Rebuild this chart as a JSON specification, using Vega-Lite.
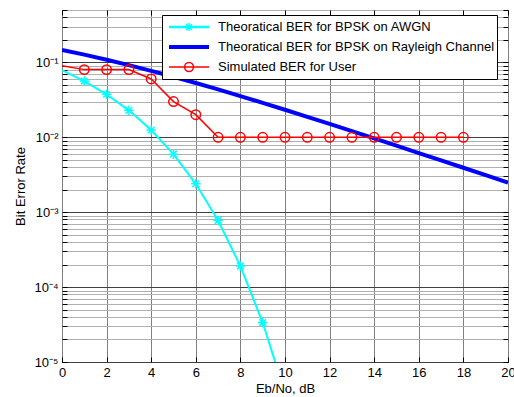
{
  "$schema": "https://vega.github.io/schema/vega-lite/v6.json",
  "width": 446,
  "height": 352,
  "autosize": "none",
  "padding": {"left": 62, "top": 10, "right": 6, "bottom": 35},
  "background": "white",
  "config": {
    "view": {"stroke": "black", "strokeWidth": 1},
    "axis": {
      "labelFont": "Liberation Sans", "labelFontSize": 13, "labelColor": "black",
      "titleFont": "Liberation Sans", "titleFontSize": 13, "titleFontWeight": "normal", "titleColor": "black",
      "domain": false, "tickColor": "black"
    }
  },
  "resolve": {"axis": {"x": "independent", "y": "independent"}},
  "data": {
    "values": [
      {"x": 0, "y": 0.0786, "series": "Theoratical BER for BPSK on AWGN"},
      {"x": 1, "y": 0.0563, "series": "Theoratical BER for BPSK on AWGN"},
      {"x": 2, "y": 0.0375, "series": "Theoratical BER for BPSK on AWGN"},
      {"x": 3, "y": 0.0229, "series": "Theoratical BER for BPSK on AWGN"},
      {"x": 4, "y": 0.0125, "series": "Theoratical BER for BPSK on AWGN"},
      {"x": 5, "y": 0.00595, "series": "Theoratical BER for BPSK on AWGN"},
      {"x": 6, "y": 0.00239, "series": "Theoratical BER for BPSK on AWGN"},
      {"x": 7, "y": 0.000773, "series": "Theoratical BER for BPSK on AWGN"},
      {"x": 8, "y": 0.000191, "series": "Theoratical BER for BPSK on AWGN"},
      {"x": 9, "y": 0.0000336, "series": "Theoratical BER for BPSK on AWGN"},
      {"x": 10, "y": 0.00000387, "series": "Theoratical BER for BPSK on AWGN"},
      {"x": 0, "y": 0.1464, "series": "Theoratical BER for BPSK on Rayleigh Channel"},
      {"x": 1, "y": 0.1267, "series": "Theoratical BER for BPSK on Rayleigh Channel"},
      {"x": 2, "y": 0.1085, "series": "Theoratical BER for BPSK on Rayleigh Channel"},
      {"x": 3, "y": 0.0919, "series": "Theoratical BER for BPSK on Rayleigh Channel"},
      {"x": 4, "y": 0.0771, "series": "Theoratical BER for BPSK on Rayleigh Channel"},
      {"x": 5, "y": 0.0642, "series": "Theoratical BER for BPSK on Rayleigh Channel"},
      {"x": 6, "y": 0.0530, "series": "Theoratical BER for BPSK on Rayleigh Channel"},
      {"x": 7, "y": 0.0435, "series": "Theoratical BER for BPSK on Rayleigh Channel"},
      {"x": 8, "y": 0.0355, "series": "Theoratical BER for BPSK on Rayleigh Channel"},
      {"x": 9, "y": 0.0288, "series": "Theoratical BER for BPSK on Rayleigh Channel"},
      {"x": 10, "y": 0.0233, "series": "Theoratical BER for BPSK on Rayleigh Channel"},
      {"x": 11, "y": 0.01875, "series": "Theoratical BER for BPSK on Rayleigh Channel"},
      {"x": 12, "y": 0.01506, "series": "Theoratical BER for BPSK on Rayleigh Channel"},
      {"x": 13, "y": 0.01208, "series": "Theoratical BER for BPSK on Rayleigh Channel"},
      {"x": 14, "y": 0.00967, "series": "Theoratical BER for BPSK on Rayleigh Channel"},
      {"x": 15, "y": 0.00772, "series": "Theoratical BER for BPSK on Rayleigh Channel"},
      {"x": 16, "y": 0.00616, "series": "Theoratical BER for BPSK on Rayleigh Channel"},
      {"x": 17, "y": 0.00492, "series": "Theoratical BER for BPSK on Rayleigh Channel"},
      {"x": 18, "y": 0.00392, "series": "Theoratical BER for BPSK on Rayleigh Channel"},
      {"x": 19, "y": 0.00312, "series": "Theoratical BER for BPSK on Rayleigh Channel"},
      {"x": 20, "y": 0.00248, "series": "Theoratical BER for BPSK on Rayleigh Channel"},
      {"x": 0, "y": 0.09, "series": "Simulated BER for User"},
      {"x": 1, "y": 0.08, "series": "Simulated BER for User"},
      {"x": 2, "y": 0.08, "series": "Simulated BER for User"},
      {"x": 3, "y": 0.08, "series": "Simulated BER for User"},
      {"x": 4, "y": 0.06, "series": "Simulated BER for User"},
      {"x": 5, "y": 0.03, "series": "Simulated BER for User"},
      {"x": 6, "y": 0.02, "series": "Simulated BER for User"},
      {"x": 7, "y": 0.01, "series": "Simulated BER for User"},
      {"x": 8, "y": 0.01, "series": "Simulated BER for User"},
      {"x": 9, "y": 0.01, "series": "Simulated BER for User"},
      {"x": 10, "y": 0.01, "series": "Simulated BER for User"},
      {"x": 11, "y": 0.01, "series": "Simulated BER for User"},
      {"x": 12, "y": 0.01, "series": "Simulated BER for User"},
      {"x": 13, "y": 0.01, "series": "Simulated BER for User"},
      {"x": 14, "y": 0.01, "series": "Simulated BER for User"},
      {"x": 15, "y": 0.01, "series": "Simulated BER for User"},
      {"x": 16, "y": 0.01, "series": "Simulated BER for User"},
      {"x": 17, "y": 0.01, "series": "Simulated BER for User"},
      {"x": 18, "y": 0.01, "series": "Simulated BER for User"}
    ]
  },
  "layer": [
    {
      "mark": {"type": "line", "clip": true},
      "encoding": {
        "x": {
          "field": "x", "type": "quantitative",
          "scale": {"domain": [0, 20], "nice": false, "zero": false},
          "axis": {
            "title": "Eb/No, dB",
            "values": [0, 2, 4, 6, 8, 10, 12, 14, 16, 18, 20],
            "grid": true, "gridColor": "#808080", "gridWidth": 1,
            "tickSize": -5, "labelPadding": 9, "titlePadding": 3,
            "labelFlush": false, "labelOverlap": false
          }
        },
        "y": {
          "field": "y", "type": "quantitative",
          "scale": {"type": "log", "domain": [0.00001, 0.5], "nice": false},
          "axis": {
            "title": "Bit Error Rate",
            "values": [0.00001, 0.00002, 0.00003, 0.00004, 0.00005, 0.00006, 0.00007, 0.00008, 0.00009,
                       0.0001, 0.0002, 0.0003, 0.0004, 0.0005, 0.0006, 0.0007, 0.0008, 0.0009,
                       0.001, 0.002, 0.003, 0.004, 0.005, 0.006, 0.007, 0.008, 0.009,
                       0.01, 0.02, 0.03, 0.04, 0.05, 0.06, 0.07, 0.08, 0.09,
                       0.1, 0.2, 0.3, 0.4, 0.5],
            "labelExpr": "abs(log(datum.value)/LN10 - round(log(datum.value)/LN10)) < 0.001 ? '10' + ['⁰','⁻¹','⁻²','⁻³','⁻⁴','⁻⁵'][-round(log(datum.value)/LN10)] : ''",
            "labelOverlap": false, "labelFlush": false,
            "grid": true,
            "gridColor": {"condition": {"test": "abs(log(datum.value)/LN10 - round(log(datum.value)/LN10)) < 0.001", "value": "#404040"}, "value": "#b0b0b0"},
            "tickSize": -5, "labelPadding": 9, "titlePadding": 6
          }
        },
        "color": {
          "field": "series", "type": "nominal",
          "scale": {
            "domain": ["Theoratical BER for BPSK on AWGN", "Theoratical BER for BPSK on Rayleigh Channel", "Simulated BER for User"],
            "range": ["#00FFFF", "#0000FF", "#FF0000"]
          },
          "legend": {
            "title": null,
            "orient": "none", "legendX": 100, "legendY": 5,
            "direction": "vertical",
            "strokeColor": "black", "fillColor": "white", "padding": 2,
            "labelFont": "Liberation Sans", "labelFontSize": 13, "labelColor": "black", "labelLimit": 500,
            "labelOffset": 8, "symbolOffset": 4,
            "symbolSize": 1600, "symbolStrokeWidth": 1.5,
            "clipHeight": 20, "rowPadding": 0,
            "encode": {
              "symbols": {
                "update": {
                  "shape": {"signal": "datum.value == 'Theoratical BER for BPSK on AWGN' ? 'M-1,-0.02H1M-1,0.02H1M0,-0.2V0.2M-0.15,-0.15L0.15,0.15M-0.15,0.15L0.15,-0.15' : datum.value == 'Theoratical BER for BPSK on Rayleigh Channel' ? 'M-1,-0.06H1M-1,0H1M-1,0.06H1' : 'M-1,0H1M0.22,0A0.22,0.22 0 1,1 -0.22,0A0.22,0.22 0 1,1 0.22,0'"},
                  "stroke": {"scale": "color", "field": "value"},
                  "fill": {"value": "transparent"},
                  "strokeWidth": {"value": 1.5},
                  "opacity": {"value": 1}
                }
              }
            }
          }
        },
        "strokeWidth": {
          "condition": [
            {"test": "datum.series == 'Theoratical BER for BPSK on Rayleigh Channel'", "value": 4},
            {"test": "datum.series == 'Simulated BER for User'", "value": 1.5}
          ],
          "value": 2
        }
      }
    },
    {
      "transform": [{"filter": "datum.series != 'Theoratical BER for BPSK on Rayleigh Channel' && datum.x > 0"}],
      "mark": {"type": "point", "clip": true, "filled": false, "size": 90, "strokeWidth": 1.5, "opacity": 1},
      "encoding": {
        "x": {
          "field": "x", "type": "quantitative",
          "axis": {"orient": "top", "title": null, "labels": false, "grid": false, "tickSize": -5,
                   "values": [0, 2, 4, 6, 8, 10, 12, 14, 16, 18, 20]}
        },
        "y": {
          "field": "y", "type": "quantitative",
          "axis": {"orient": "right", "title": null, "labels": false, "grid": false, "tickSize": -5,
                   "values": [0.00001, 0.00002, 0.00003, 0.00004, 0.00005, 0.00006, 0.00007, 0.00008, 0.00009,
                       0.0001, 0.0002, 0.0003, 0.0004, 0.0005, 0.0006, 0.0007, 0.0008, 0.0009,
                       0.001, 0.002, 0.003, 0.004, 0.005, 0.006, 0.007, 0.008, 0.009,
                       0.01, 0.02, 0.03, 0.04, 0.05, 0.06, 0.07, 0.08, 0.09,
                       0.1, 0.2, 0.3, 0.4, 0.5]}
        },
        "color": {"field": "series", "type": "nominal"},
        "shape": {
          "field": "series", "type": "nominal",
          "scale": {
            "domain": ["Theoratical BER for BPSK on AWGN", "Simulated BER for User"],
            "range": ["M-1,0H1M0,-1V1M-0.7,-0.7L0.7,0.7M-0.7,0.7L0.7,-0.7", "circle"]
          },
          "legend": null
        }
      }
    }
  ]
}
